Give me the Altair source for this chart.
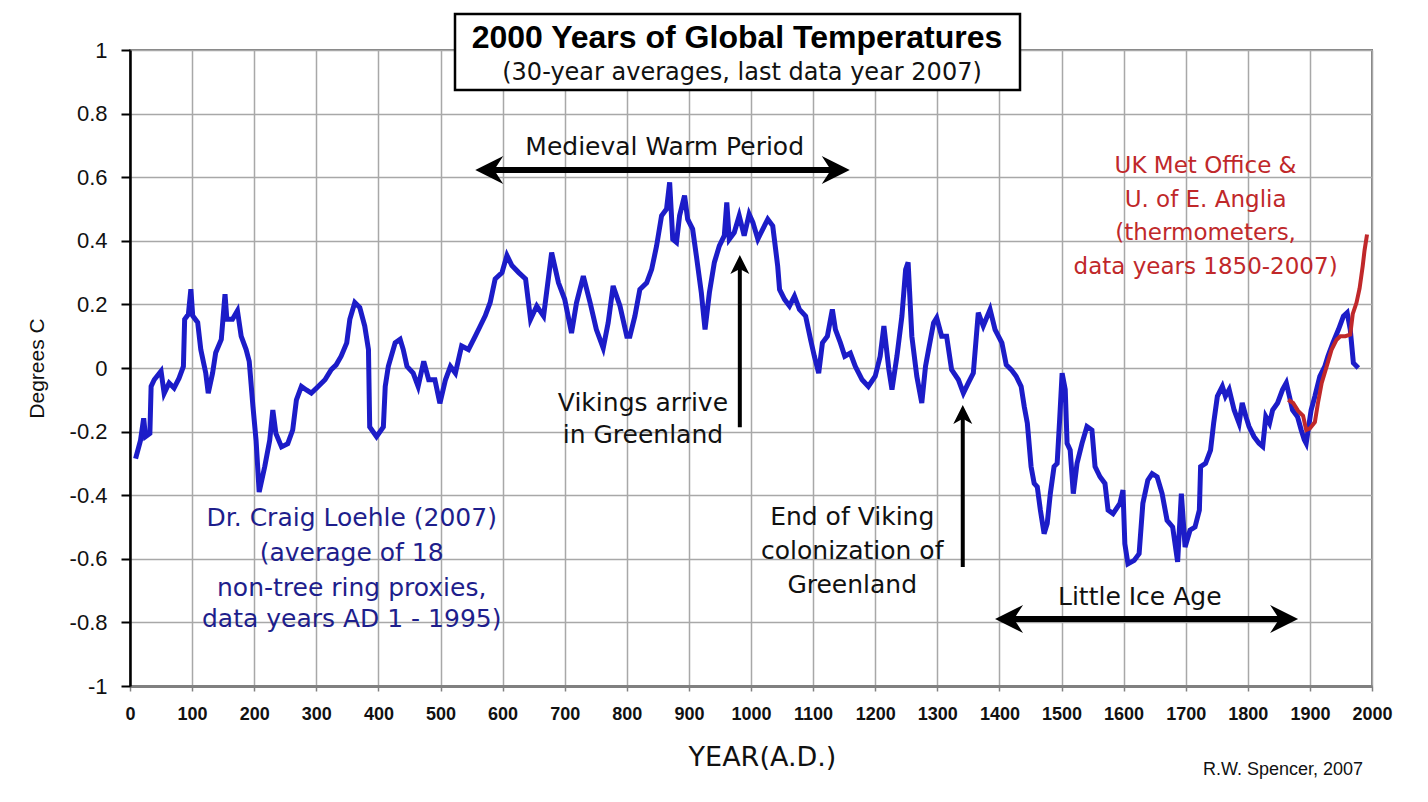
import altair as alt
import pandas as pd

# ---------------- data ----------------
loehle_year = [9, 17, 22, 25, 32, 34, 39, 50, 55, 63, 71, 79, 86, 88, 94, 98, 101, 109, 114, 122,
               126, 133, 138, 147, 153, 156, 165, 173, 179, 187, 192, 198, 203, 208, 217, 225, 230,
               235, 244, 254, 262, 268, 276, 284, 292, 303, 314, 324, 332, 340, 349, 354, 362, 370,
               378, 384, 386, 397, 408, 411, 416, 427, 435, 440, 446, 456, 464, 473, 481, 491, 499,
               508, 516, 524, 534, 545, 556, 564, 572, 580, 588, 599, 607, 615, 626, 637, 645, 655,
               666, 679, 690, 700, 711, 719, 730, 741, 751, 762, 770, 778, 789, 800, 805, 813, 821,
               832, 840, 848, 856, 864, 869, 874, 880, 885, 893, 898, 906, 912, 920, 926, 933, 941,
               949, 957, 961, 965, 973, 981, 989, 997, 1003, 1011, 1019, 1027, 1035, 1043, 1046,
               1054, 1062, 1070, 1078, 1088, 1096, 1102, 1109, 1115, 1123, 1131, 1136, 1144, 1151,
               1160, 1168, 1179, 1189, 1200, 1208, 1214, 1222, 1227, 1235, 1243, 1249, 1253, 1259,
               1267, 1275, 1281, 1286, 1294, 1299, 1307, 1315, 1323, 1334, 1342, 1350, 1358, 1366,
               1374, 1385, 1393, 1404, 1411, 1419, 1427, 1435, 1440, 1445, 1451, 1456, 1461, 1466,
               1472, 1477, 1482, 1488, 1493, 1497, 1501, 1506, 1509, 1514, 1519, 1525, 1533, 1541,
               1549, 1554, 1562, 1570, 1575, 1583, 1594, 1599, 1602, 1607, 1617, 1625, 1631, 1639,
               1646, 1654, 1662, 1670, 1679, 1687, 1693, 1699, 1707, 1715, 1722, 1724, 1732, 1740,
               1745, 1751, 1759, 1764, 1770, 1778, 1786, 1791, 1797, 1802, 1810, 1818, 1824, 1829,
               1835, 1840, 1848, 1856, 1862, 1867, 1872, 1880, 1886, 1891, 1894, 1902, 1908, 1916,
               1924, 1929, 1937, 1946, 1954, 1960, 1965, 1970, 1978]
loehle_temp = [-0.285, -0.227, -0.158, -0.216, -0.206, -0.058, -0.037, -0.01, -0.08, -0.047, -0.063,
               -0.032, 0.005, 0.153, 0.169, 0.248, 0.164, 0.143, 0.058, -0.016, -0.079, -0.016,
               0.048, 0.09, 0.232, 0.153, 0.153, 0.18, 0.1, 0.058, 0.021, -0.121, -0.227, -0.39,
               -0.31, -0.227, -0.132, -0.206, -0.248, -0.238, -0.195, -0.1, -0.058, -0.069, -0.079,
               -0.058, -0.037, -0.005, 0.01, 0.037, 0.079, 0.153, 0.206, 0.19, 0.132, 0.058, -0.185,
               -0.216, -0.185, -0.058, 0.005, 0.079, 0.09, 0.058, 0.005, -0.016, -0.058, 0.021,
               -0.037, -0.037, -0.111, -0.037, 0.005, -0.016, 0.069, 0.058, 0.1, 0.132, 0.164,
               0.206, 0.28, 0.3, 0.354, 0.322, 0.3, 0.28, 0.153, 0.195, 0.163, 0.363, 0.268, 0.216,
               0.11, 0.205, 0.289, 0.205, 0.121, 0.063, 0.142, 0.258, 0.195, 0.1, 0.1, 0.163, 0.247,
               0.268, 0.31, 0.384, 0.479, 0.5, 0.584, 0.405, 0.395, 0.479, 0.542, 0.468, 0.437,
               0.353, 0.237, 0.121, 0.237, 0.332, 0.384, 0.416, 0.521, 0.405, 0.426, 0.479, 0.416,
               0.484, 0.458, 0.405, 0.437, 0.468, 0.447, 0.32, 0.247, 0.216, 0.195, 0.226, 0.184,
               0.163, 0.089, 0.037, -0.016, 0.079, 0.1, 0.184, 0.121, 0.079, 0.037, 0.047, 0.005,
               -0.037, -0.058, -0.026, 0.037, 0.132, -0.005, -0.068, 0.037, 0.163, 0.31, 0.332, 0.1,
               -0.026, -0.11, 0.005, 0.058, 0.142, 0.158, 0.1, 0.1, -0.005, -0.037, -0.079, -0.047,
               -0.016, 0.174, 0.132, 0.184, 0.121, 0.079, 0.01, -0.005, -0.026, -0.058, -0.121,
               -0.174, -0.31, -0.363, -0.374, -0.447, -0.521, -0.489, -0.395, -0.31, -0.3, -0.163,
               -0.016, -0.068, -0.237, -0.258, -0.395, -0.3, -0.237, -0.184, -0.195, -0.31, -0.342,
               -0.363, -0.447, -0.458, -0.426, -0.384, -0.553, -0.616, -0.605, -0.584, -0.426,
               -0.353, -0.332, -0.342, -0.395, -0.479, -0.5, -0.61, -0.395, -0.563, -0.51, -0.5,
               -0.447, -0.31, -0.3, -0.258, -0.174, -0.089, -0.058, -0.089, -0.068, -0.132, -0.174,
               -0.11, -0.153, -0.184, -0.216, -0.237, -0.247, -0.153, -0.174, -0.132, -0.11, -0.068,
               -0.047, -0.089, -0.132, -0.153, -0.195, -0.226, -0.237, -0.132, -0.089, -0.026, 0.005,
               0.037, 0.079, 0.121, 0.163, 0.174, 0.121, 0.016, 0.0]

hadcrut_year = [1865, 1873, 1881, 1889, 1894, 1900, 1908, 1913, 1919, 1927, 1935, 1943, 1949, 1957,
                1965, 1969, 1975, 1980, 1985, 1988, 1992]
hadcrut_temp = [-0.10, -0.11, -0.135, -0.15, -0.195, -0.19, -0.17, -0.11, -0.047, 0.005, 0.058,
                0.089, 0.1, 0.1, 0.105, 0.17, 0.205, 0.25, 0.32, 0.37, 0.42]

x_grid = [0, 50, 100, 150, 200, 250, 300, 350, 400, 450, 500, 550, 600, 650, 700, 750, 800, 850,
          900, 950, 1000, 1050, 1100, 1150, 1200, 1250, 1300, 1350, 1400, 1450, 1500, 1550, 1600,
          1650, 1700, 1750, 1800, 1850, 1900, 1950, 2000]
y_ticks = [-1, -0.8, -0.6, -0.4, -0.2, 0, 0.2, 0.4, 0.6, 0.8, 1]

black_note_year = [861, 826, 826, 1163, 1163, 1163, 1626]
black_note_temp = [0.695, -0.11, -0.21, -0.469, -0.575, -0.682, -0.72]
black_note_text = ["Medieval Warm Period", "Vikings arrive", "in Greenland", "End of Viking",
                   "colonization of", "Greenland", "Little Ice Age"]

blue_note_year = [357, 357, 357, 357]
blue_note_temp = [-0.472, -0.582, -0.692, -0.789]
blue_note_text = ["Dr. Craig Loehle (2007)", "(average of 18", "non-tree ring proxies,",
                  "data years AD 1 - 1995)"]

red_note_year = [1732, 1732, 1732, 1732]
red_note_temp = [0.635, 0.528, 0.425, 0.318]
red_note_text = ["UK Met Office &", "U. of E. Anglia", "(thermometers,", "data years 1850-2007)"]

# double arrows (period spans)
span_start = [556, 1393]
span_end = [1159, 1881]
span_temp = [0.623, -0.789]

# up arrows (events)
event_year = [982, 1341]
event_low = [-0.186, -0.626]
event_tip = [0.355, -0.116]

title_text = "2000 Years of Global Temperatures"
subtitle_text = "(30-year averages, last data year 2007)"
credit_text = "R.W. Spencer, 2007"

# ---------------- tables ----------------
loehle = pd.DataFrame({"year": loehle_year, "temp": loehle_temp})
hadcrut = pd.DataFrame({"year": hadcrut_year, "temp": hadcrut_temp})
black_notes = pd.DataFrame({"year": black_note_year, "temp": black_note_temp, "text": black_note_text})
blue_notes = pd.DataFrame({"year": blue_note_year, "temp": blue_note_temp, "text": blue_note_text})
red_notes = pd.DataFrame({"year": red_note_year, "temp": red_note_temp, "text": red_note_text})
spans = pd.DataFrame({"start": span_start, "end": span_end, "temp": span_temp})
events = pd.DataFrame({"year": event_year, "low": event_low, "tip": event_tip})

BLUE = "#1c1cc8"
RED = "#c0282a"
GRID = "#a8a8a8"
NOTE_FONT = "DejaVu Sans"

x_scale = alt.Scale(domain=[0, 2000], nice=False, zero=False)
y_scale = alt.Scale(domain=[-1, 1], nice=False, zero=False)

x_axis = alt.Axis(
    values=x_grid, labelExpr="datum.value % 100 == 0 ? format(datum.value, 'd') : ''",
    labelOverlap=False, labelFlush=False, grid=True, gridColor=GRID, gridWidth=1.5,
    domainColor="#808080", domainWidth=3, tickColor="#808080", tickSize=5, tickWidth=1.5,
    labelFont="Liberation Sans", labelFontSize=18, labelFontWeight="bold", labelColor="#111111",
    labelPadding=14, title="YEAR(A.D.)", titleFont=NOTE_FONT, titleFontSize=27,
    titleFontWeight="normal", titleColor="#111111", titleX=632, titleY=71,
    titleAlign="center", titleBaseline="middle")
y_axis = alt.Axis(
    values=y_ticks,
    labelExpr="datum.value < 0 ? '-' + format(-datum.value, '~g') : format(datum.value, '~g')",
    grid=True, gridColor=GRID, gridWidth=1.5,
    domainColor="black", domainWidth=2.5, tickColor="black", tickSize=9, tickWidth=2,
    labelFont="Liberation Sans", labelFontSize=22, labelColor="#111111", labelPadding=14,
    title="Degrees C", titleFont="Liberation Sans", titleFontSize=21, titleFontWeight="normal",
    titleColor="#111111", titleX=-93, titleY=318, titleAngle=270,
    titleAlign="center", titleBaseline="middle")

base_line = alt.Chart(loehle).mark_line(color=BLUE, strokeWidth=5, strokeJoin="miter").encode(
    x=alt.X("year:Q", scale=x_scale, axis=x_axis),
    y=alt.Y("temp:Q", scale=y_scale, axis=y_axis),
)
red_line = alt.Chart(hadcrut).mark_line(color=RED, strokeWidth=4).encode(
    x="year:Q", y="temp:Q")

def notes(df, color, size):
    return alt.Chart(df).mark_text(font=NOTE_FONT, fontSize=size, color=color,
                                   align="center", baseline="middle").encode(
        x="year:Q", y="temp:Q", text="text:N")

# horizontal double arrows
span_shaft = alt.Chart(spans).transform_calculate(
    s="datum.start + 18", e="datum.end - 18").mark_rule(
    color="black", strokeWidth=6).encode(x="s:Q", x2="e:Q", y="temp:Q")
left_head = alt.Chart(spans).mark_point(
    shape="M 0 0 L 2 -1 L 1.35 0 L 2 1 Z", size=784, filled=True, color="black", opacity=1
).encode(x="start:Q", y="temp:Q")
right_head = alt.Chart(spans).mark_point(
    shape="M 0 0 L -2 -1 L -1.35 0 L -2 1 Z", size=784, filled=True, color="black", opacity=1
).encode(x="end:Q", y="temp:Q")

# vertical arrows
event_shaft = alt.Chart(events).transform_calculate(t="datum.tip - 0.03").mark_rule(
    color="black", strokeWidth=4).encode(x="year:Q", y="low:Q", y2="t:Q")
up_head = alt.Chart(events).mark_point(
    shape="M 0 0 L -1 2 L 0 1.45 L 1 2 Z", size=361, filled=True, color="black", opacity=1
).encode(x="year:Q", y="tip:Q")

# title box (decoration above the plot)
box = alt.Chart(pd.DataFrame({"k": [0]})).mark_rect(
    fill="white", stroke="black", strokeWidth=2.5).encode(
    x=alt.value(325), x2=alt.value(890), y=alt.value(-36), y2=alt.value(40))
title = alt.Chart(pd.DataFrame({"t": [title_text]})).mark_text(
    font="Liberation Sans", fontSize=32, fontWeight="bold", color="black",
    align="center", baseline="middle").encode(x=alt.value(607), y=alt.value(-12), text="t:N")
subtitle = alt.Chart(pd.DataFrame({"t": [subtitle_text]})).mark_text(
    font=NOTE_FONT, fontSize=24, color="#111111",
    align="center", baseline="middle").encode(x=alt.value(612), y=alt.value(23), text="t:N")
credit = alt.Chart(pd.DataFrame({"t": [credit_text]})).mark_text(
    font="Liberation Sans", fontSize=18, color="#111111",
    align="center", baseline="middle").encode(x=alt.value(1153), y=alt.value(720), text="t:N")

chart = alt.layer(
    base_line, red_line, span_shaft, left_head, right_head, event_shaft, up_head,
    notes(black_notes, "#111111", 25), notes(blue_notes, "#1e1e8c", 25), notes(red_notes, RED, 23),
    box, title, subtitle, credit,
).properties(
    width=1242, height=636,
    padding={"left": 122, "top": 42, "right": 40, "bottom": 100},
    autosize=alt.AutoSizeParams(type="none"),
    background="white",
).configure_view(stroke="#808080", strokeWidth=2)

chart.save("out.html", embed_options={"renderer": "svg", "actions": False})
